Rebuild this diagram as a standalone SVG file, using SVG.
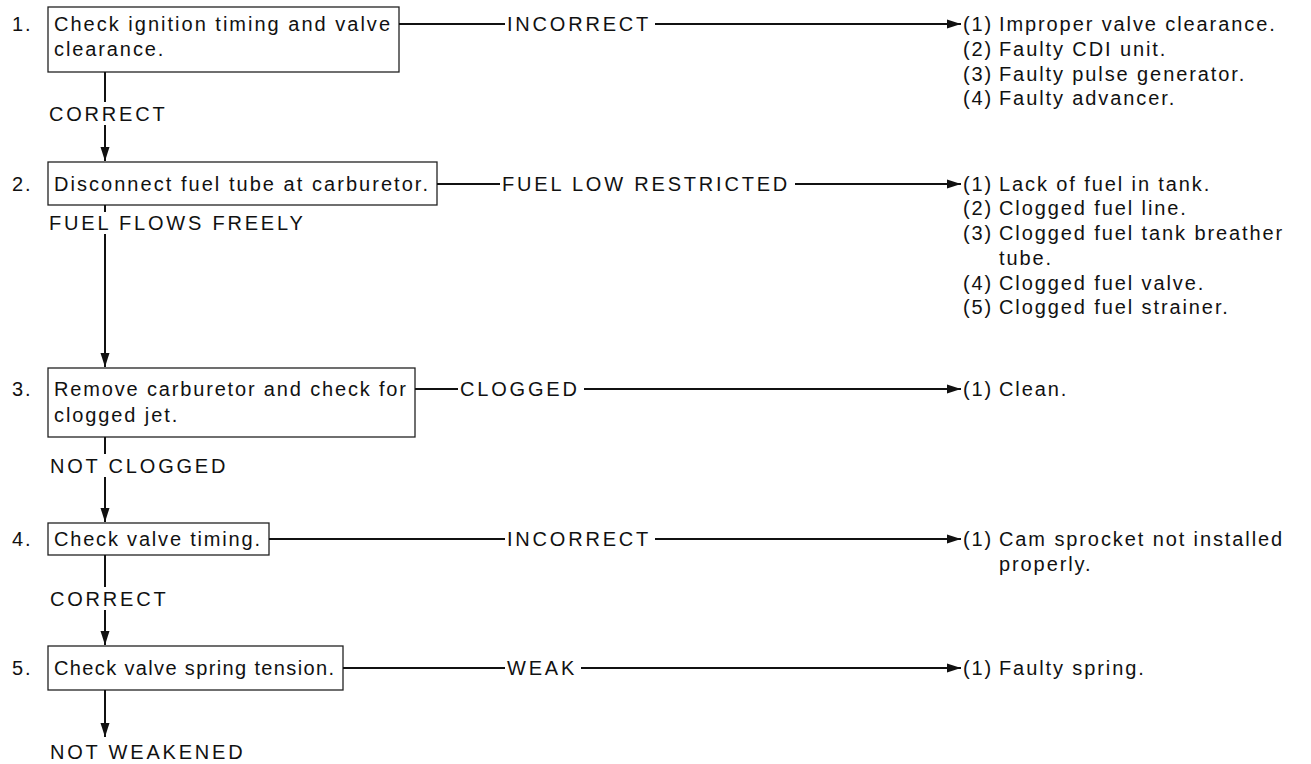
<svg xmlns="http://www.w3.org/2000/svg" width="1311" height="764" viewBox="0 0 1311 764">
<style>
text{font-family:"Liberation Sans",Arial,sans-serif;font-size:20px;letter-spacing:1.9px;fill:#111}
text.lbl{letter-spacing:2.8px}
text.fit{letter-spacing:0}
.box{fill:none;stroke:#222;stroke-width:1.3}
.ln{stroke:#111;stroke-width:2;fill:none}
</style>
<defs>
<marker id="ah" markerWidth="14" markerHeight="10" refX="14" refY="5" orient="auto" markerUnits="userSpaceOnUse">
<path d="M0,0.5 L14,5 L0,9.5 Z" fill="#111"/>
</marker>
</defs>
<rect width="1311" height="764" fill="#fff"/>

<g id="step1">
<text x="12" y="31">1.</text>
<rect class="box" x="48" y="7" width="351" height="65"/>
<text class="fit" x="54" y="31" textLength="336" lengthAdjust="spacing">Check ignition timing and valve</text>
<text x="54" y="56">clearance.</text>
</g>
<g id="step2">
<text x="12" y="191">2.</text>
<rect class="box" x="48" y="162" width="389" height="43"/>
<text class="fit" x="54" y="191" textLength="374" lengthAdjust="spacing">Disconnect fuel tube at carburetor.</text>
</g>
<g id="step3">
<text x="12" y="396">3.</text>
<rect class="box" x="48" y="368" width="367" height="69"/>
<text class="fit" x="54" y="396" textLength="352" lengthAdjust="spacing">Remove carburetor and check for</text>
<text x="54" y="422">clogged jet.</text>
</g>
<g id="step4">
<text x="12" y="546">4.</text>
<rect class="box" x="48" y="523" width="221" height="32"/>
<text class="fit" x="54" y="546" textLength="206" lengthAdjust="spacing">Check valve timing.</text>
</g>
<g id="step5">
<text x="12" y="675">5.</text>
<rect class="box" x="48" y="646" width="295" height="44"/>
<text class="fit" x="54" y="675" textLength="280" lengthAdjust="spacing">Check valve spring tension.</text>
</g>

<g id="result1">
<text x="963" y="31">(1)</text><text x="999" y="31">Improper valve clearance.</text>
<text x="963" y="56">(2)</text><text x="999" y="56">Faulty CDI unit.</text>
<text x="963" y="81">(3)</text><text x="999" y="81">Faulty pulse generator.</text>
<text x="963" y="105">(4)</text><text x="999" y="105">Faulty advancer.</text>
</g>
<g id="result2">
<text x="963" y="191">(1)</text><text x="999" y="191">Lack of fuel in tank.</text>
<text x="963" y="215">(2)</text><text x="999" y="215">Clogged fuel line.</text>
<text x="963" y="240">(3)</text><text x="999" y="240">Clogged fuel tank breather</text>
<text x="999" y="265">tube.</text>
<text x="963" y="290">(4)</text><text x="999" y="290">Clogged fuel valve.</text>
<text x="963" y="314">(5)</text><text x="999" y="314">Clogged fuel strainer.</text>
</g>
<g id="result3">
<text x="963" y="396">(1)</text><text x="999" y="396">Clean.</text>
</g>
<g id="result4">
<text x="963" y="546">(1)</text><text x="999" y="546">Cam sprocket not installed</text>
<text x="999" y="571">properly.</text>
</g>
<g id="result5">
<text x="963" y="675">(1)</text><text x="999" y="675">Faulty spring.</text>
</g>

<g id="connectors">
<line class="ln" x1="105" y1="72" x2="105" y2="102"/>
<text class="lbl" x="49" y="121">CORRECT</text>
<line class="ln" x1="105" y1="125" x2="105" y2="161" marker-end="url(#ah)"/>

<line class="ln" x1="105" y1="205" x2="105" y2="212"/>
<text class="lbl" x="49" y="230">FUEL FLOWS FREELY</text>
<line class="ln" x1="105" y1="234" x2="105" y2="367" marker-end="url(#ah)"/>

<line class="ln" x1="105" y1="437" x2="105" y2="454"/>
<text class="lbl" x="50" y="473">NOT CLOGGED</text>
<line class="ln" x1="105" y1="477" x2="105" y2="522" marker-end="url(#ah)"/>

<line class="ln" x1="105" y1="555" x2="105" y2="587"/>
<text class="lbl" x="50" y="606">CORRECT</text>
<line class="ln" x1="105" y1="610" x2="105" y2="645" marker-end="url(#ah)"/>

<line class="ln" x1="105" y1="690" x2="105" y2="737" marker-end="url(#ah)"/>
<text class="lbl" x="50" y="759">NOT WEAKENED</text>

<line class="ln" x1="399" y1="24" x2="505" y2="24"/>
<text class="lbl" x="507" y="31">INCORRECT</text>
<line class="ln" x1="655" y1="24" x2="961" y2="24" marker-end="url(#ah)"/>

<line class="ln" x1="437" y1="184" x2="500" y2="184"/>
<text class="lbl" x="502" y="191">FUEL LOW RESTRICTED</text>
<line class="ln" x1="795" y1="184" x2="961" y2="184" marker-end="url(#ah)"/>

<line class="ln" x1="415" y1="389" x2="458" y2="389"/>
<text class="lbl" x="460" y="396">CLOGGED</text>
<line class="ln" x1="584" y1="389" x2="961" y2="389" marker-end="url(#ah)"/>

<line class="ln" x1="269" y1="539" x2="505" y2="539"/>
<text class="lbl" x="507" y="546">INCORRECT</text>
<line class="ln" x1="655" y1="539" x2="961" y2="539" marker-end="url(#ah)"/>

<line class="ln" x1="343" y1="668" x2="505" y2="668"/>
<text class="lbl" x="507" y="675">WEAK</text>
<line class="ln" x1="581" y1="668" x2="961" y2="668" marker-end="url(#ah)"/>
</g>
</svg>
